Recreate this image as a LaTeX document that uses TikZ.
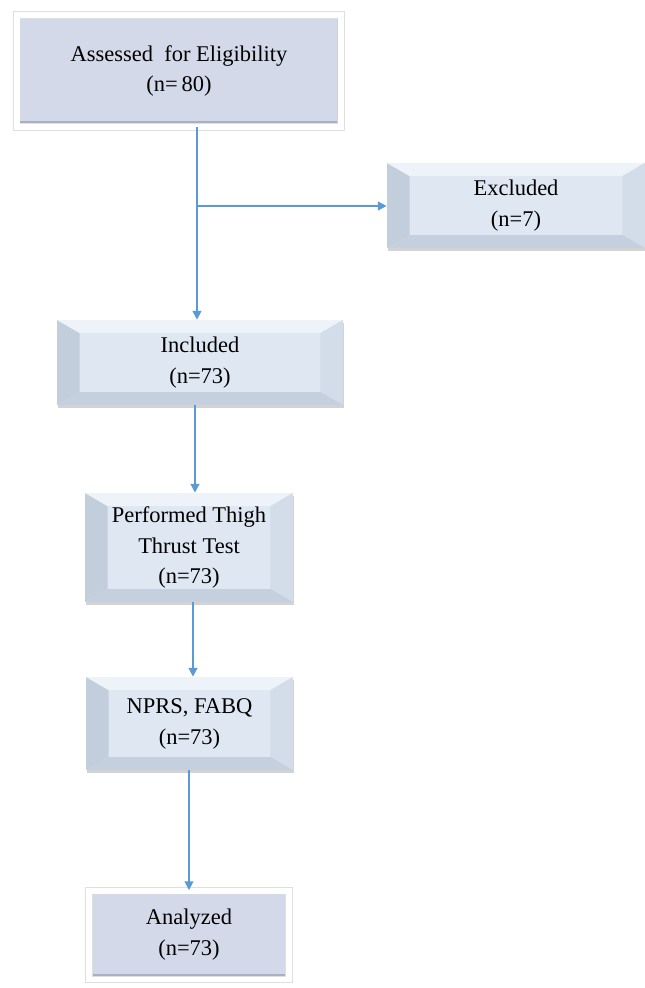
\documentclass[tikz,border=0pt]{standalone}
\usepackage{fontspec}
\setmainfont{Liberation Serif}
\usetikzlibrary{arrows.meta,shadows}
\definecolor{flowblue}{HTML}{5B9BD5}
\definecolor{bvmid}{HTML}{DEE7F2}
\definecolor{bvleft}{HTML}{C3CEDD}
\definecolor{bvtop}{HTML}{EEF3F9}
\definecolor{bvright}{HTML}{D3DDE9}
\definecolor{bvbottom}{HTML}{C5D0DE}
\definecolor{lavbox}{HTML}{D3D9E8}
\definecolor{lavedge}{HTML}{A8B0C4}
\tikzset{
	bevel/.style={fill=bvmid, drop shadow={opacity=0.35, shadow xshift=0.8pt, shadow yshift=-1.6pt},
		path picture={
			\coordinate (sw) at (path picture bounding box.south west);
			\coordinate (ne) at (path picture bounding box.north east);
			\coordinate (nw) at (path picture bounding box.north west);
			\coordinate (se) at (path picture bounding box.south east);
			\fill[bvleft] (sw) -- (nw) -- ([shift={(0.45cm,-0.26cm)}]nw) -- ([shift={(0.45cm,0.26cm)}]sw) -- cycle;
			\fill[bvtop] (nw) -- (ne) -- ([shift={(-0.45cm,-0.26cm)}]ne) -- ([shift={(0.45cm,-0.26cm)}]nw) -- cycle;
			\fill[bvright] (ne) -- (se) -- ([shift={(-0.45cm,0.26cm)}]se) -- ([shift={(-0.45cm,-0.26cm)}]ne) -- cycle;
			\fill[bvbottom] (se) -- (sw) -- ([shift={(0.45cm,0.26cm)}]sw) -- ([shift={(-0.45cm,0.26cm)}]se) -- cycle;
		}},
	framed/.style={fill=lavbox, draw=gray!25, double=white, double distance=3.4pt, line width=0.5pt,
		drop shadow={opacity=0.25, shadow xshift=0pt, shadow yshift=-1.2pt},
		path picture={
			\fill[lavedge] ([yshift=0.12cm]path picture bounding box.south west) rectangle (path picture bounding box.south east);
			\fill[lavedge!60] ([xshift=-0.08cm]path picture bounding box.north east) rectangle (path picture bounding box.south east);
		}},
	flow/.style={draw=flowblue, line width=0.9pt, -{Triangle[length=5pt,width=5pt]}}
}
\begin{document}
\begin{tikzpicture}[x=0.02cm, y=-0.02cm, every node/.style={align=center, font=\fontsize{12.8}{17.6}\selectfont, inner sep=0pt}]
				\useasboundingbox (0,0) rectangle (645,988);
				
				\node[framed, minimum width=6.5cm, minimum height=2.24cm] (assess) at (179,71) {Assessed \ for Eligibility\\(n=\,80)};
				\node[bevel, minimum width=5.16cm, minimum height=1.7cm] (excl) at (516,205.5) {Excluded\\(n=7)};
				\node[bevel, minimum width=5.72cm, minimum height=1.7cm] (incl) at (200,362.5) {Included\\(n=73)};
				\node[bevel, minimum width=4.16cm, minimum height=2.18cm] (thrust) at (189,547.5) {Performed Thigh\\Thrust Test\\(n=73)};
				\node[bevel, minimum width=4.14cm, minimum height=1.86cm] (quest) at (189.5,723.5) {NPRS, FABQ\\(n=73)};
				\node[framed, minimum width=4.0cm, minimum height=1.78cm] (anal) at (189,935) {Analyzed\\(n=73)};
				
				\coordinate (split) at (197,206);
				
				\path[flow] (assess.south -| split) -- (split |- incl.north);
				\path[flow] (split) -- (split -| excl.west);
				\path[flow] ([xshift=-0.1cm]incl.south) -- ([xshift=-0.1cm]incl.south |- thrust.north);
				\path[flow] ([xshift=0.08cm]thrust.south) -- ([xshift=0.08cm]thrust.south |- quest.north);
				\path[flow] (quest.south -| anal) -- (anal.north);
\end{tikzpicture}
\end{document}
